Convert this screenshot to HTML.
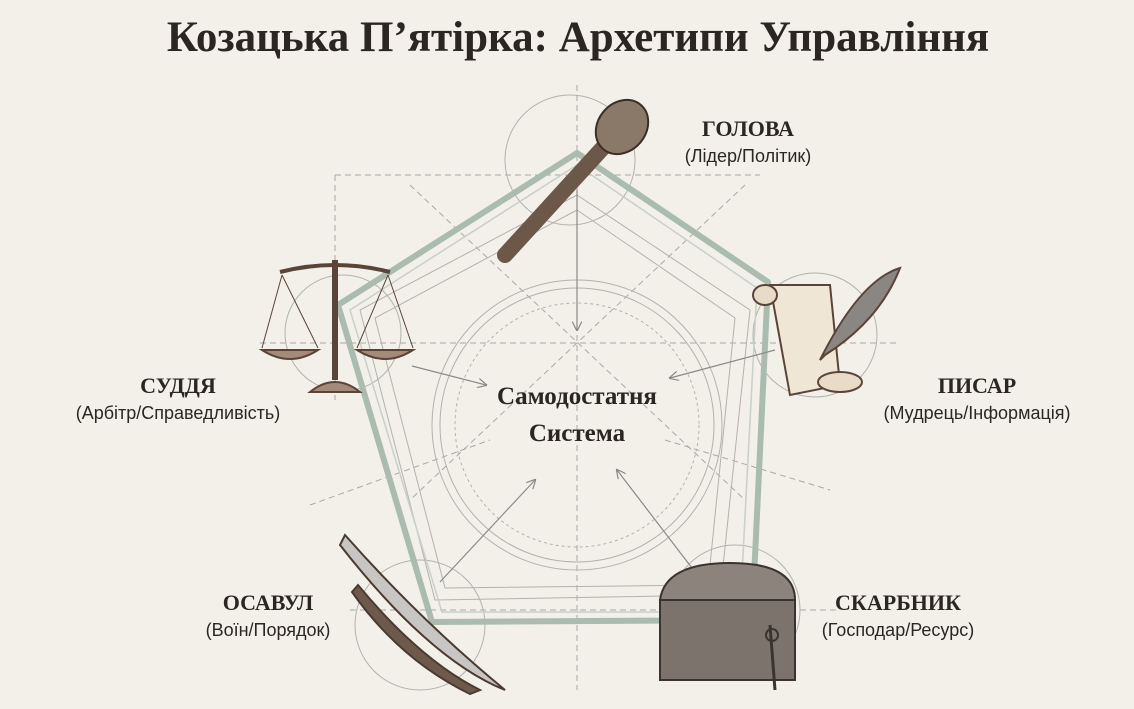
<!DOCTYPE html>
<html><head><meta charset="utf-8"><style>
html,body{margin:0;padding:0}
body{width:1134px;height:709px;background:#f2f0e9;overflow:hidden;position:relative;font-family:"Liberation Serif",serif}
svg{position:absolute;left:0;top:0}
</style></head><body>
<svg width="1134" height="709" viewBox="0 0 1134 709">
<defs>
<marker id="a" markerWidth="8" markerHeight="8" refX="7" refY="4" orient="auto"><path d="M0,0 L8,4 L0,8" fill="none" stroke="#888" stroke-width="1"/></marker>
</defs>
<text x="578" y="51" text-anchor="middle" font-family="Liberation Serif" font-weight="bold" font-size="43" fill="#2b2622">Козацька П’ятірка: Архетипи Управління</text>
<g stroke="#a9a9a4" stroke-width="1" fill="none" stroke-dasharray="6 4">
<line x1="577" y1="85" x2="577" y2="690"/>
<line x1="335" y1="175" x2="335" y2="400"/>
<line x1="335" y1="175" x2="760" y2="175"/>
<line x1="260" y1="343" x2="900" y2="343"/>
<line x1="350" y1="610" x2="840" y2="610"/>
<line x1="410" y1="185" x2="745" y2="500"/>
<line x1="745" y1="185" x2="410" y2="500"/>
<line x1="310" y1="505" x2="490" y2="440"/>
<line x1="665" y1="440" x2="830" y2="490"/>
</g>
<g stroke="#b2b2ac" stroke-width="1" fill="none">
<circle cx="577" cy="425" r="145"/>
<circle cx="577" cy="425" r="137"/>
<circle cx="577" cy="425" r="122" stroke-dasharray="3 3"/>
<circle cx="570" cy="160" r="65"/>
<circle cx="343" cy="333" r="58"/>
<circle cx="815" cy="335" r="62"/>
<circle cx="420" cy="625" r="65"/>
<circle cx="735" cy="610" r="65"/>
<polygon points="577,195 750,310 720,595 435,600 360,310"/>
<polygon points="577,210 735,318 708,585 445,588 375,318"/>
</g>
<polygon points="577,153 768,282 752,620 432,622 338,305" fill="none" stroke="#a9bcad" stroke-width="6" stroke-linejoin="round"/>
<polygon points="577,165 757,288 740,612 442,612 350,310" fill="none" stroke="#c8d0c8" stroke-width="1.5"/>
<g stroke="#8a8a86" stroke-width="1.2" marker-end="url(#a)">
<line x1="577" y1="190" x2="577" y2="330"/>
<line x1="412" y1="366" x2="486" y2="385"/>
<line x1="775" y1="350" x2="670" y2="378"/>
<line x1="440" y1="582" x2="535" y2="480"/>
<line x1="695" y1="572" x2="617" y2="470"/>
</g>
<text x="577" y="404" text-anchor="middle" font-weight="bold" font-size="25" fill="#2b2622">Самодостатня</text>
<text x="577" y="441" text-anchor="middle" font-weight="bold" font-size="25" fill="#2b2622">Система</text>
<g font-family="Liberation Serif" font-weight="bold" font-size="22" fill="#2b2622" text-anchor="middle">
<text x="748" y="136">ГОЛОВА</text>
<text x="178" y="393">СУДДЯ</text>
<text x="977" y="393">ПИСАР</text>
<text x="268" y="610">ОСАВУЛ</text>
<text x="898" y="610">СКАРБНИК</text>
</g>
<g font-family="Liberation Sans" font-size="18" fill="#2b2622" text-anchor="middle">
<text x="748" y="162">(Лідер/Політик)</text>
<text x="178" y="419">(Арбітр/Справедливість)</text>
<text x="977" y="419">(Мудрець/Інформація)</text>
<text x="268" y="636">(Воїн/Порядок)</text>
<text x="898" y="636">(Господар/Ресурс)</text>
</g>
<g stroke="#3a2e26" stroke-width="2">
<line x1="505" y1="255" x2="610" y2="140" stroke="#6b5848" stroke-width="16" stroke-linecap="round"/>
<ellipse cx="622" cy="127" rx="24" ry="29" transform="rotate(40 622 127)" fill="#8a7868"/>
</g>
<g stroke="#5a4438" stroke-width="2" fill="#a58a7a">
<line x1="335" y1="260" x2="335" y2="380" stroke-width="6"/>
<path d="M280 272 Q335 258 390 272" fill="none" stroke-width="4"/>
<path d="M262 350 Q290 368 318 350 Z"/>
<path d="M357 350 Q385 368 413 350 Z"/>
<path d="M310 392 Q335 372 360 392 Z"/>
<path d="M282 275 L262 348 M282 275 L318 348 M388 275 L357 348 M388 275 L413 348" fill="none" stroke-width="1"/>
</g>
<g stroke="#5a4438" stroke-width="2">
<path d="M770 285 L830 285 L840 385 L790 395 Z" fill="#efe6d6"/>
<ellipse cx="765" cy="295" rx="12" ry="10" fill="#e8dcc8"/>
<ellipse cx="840" cy="382" rx="22" ry="10" fill="#e8dcc8"/>
<path d="M820 360 Q860 280 900 268 Q880 320 825 355 Z" fill="#8a8682"/>
</g>
<g stroke="#4a3a30" stroke-width="2">
<path d="M345 535 Q420 620 505 690 Q430 660 340 545 Z" fill="#c8c6c2"/>
<path d="M358 585 Q420 660 480 690 L470 694 Q400 660 352 592 Z" fill="#6e5a4c"/>
</g>
<g stroke="#3a3430" stroke-width="2">
<rect x="660" y="600" width="135" height="80" fill="#7c746c"/>
<path d="M660 600 Q665 563 730 563 Q795 563 795 600 Z" fill="#8c847c"/>
<line x1="770" y1="625" x2="775" y2="690" stroke-width="3"/>
<circle cx="772" cy="635" r="6" fill="none"/>
</g>
</svg>
</body></html>
